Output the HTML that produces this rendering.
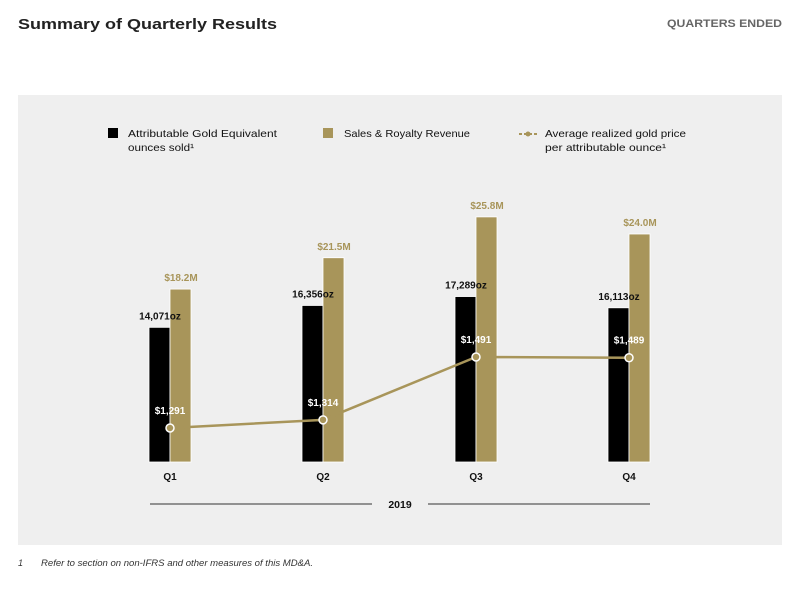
<!DOCTYPE html>
<html><head><meta charset="utf-8"><style>
body{margin:0;width:800px;height:584px;background:#fff;font-family:"Liberation Sans",sans-serif;overflow:hidden}
svg text{font-family:"Liberation Sans",sans-serif}
</style></head><body>
<svg id="c" width="800" height="584">
<text x="18" y="29" font-size="15" font-weight="bold" fill="#222" textLength="259" lengthAdjust="spacingAndGlyphs">Summary of Quarterly Results</text>
<text x="667" y="27" font-size="11" font-weight="bold" fill="#666" textLength="115" lengthAdjust="spacingAndGlyphs">QUARTERS ENDED</text>
<rect x="18" y="95" width="764" height="450" fill="#efefef"/>
<g>
<rect x="108" y="128" width="10" height="10" fill="#000"/>
<text font-size="10.5" fill="#111"><tspan x="128" y="137" textLength="149" lengthAdjust="spacingAndGlyphs">Attributable Gold Equivalent</tspan><tspan x="128" y="151" textLength="66" lengthAdjust="spacingAndGlyphs">ounces sold¹</tspan></text>
<rect x="323" y="128" width="10" height="10" fill="#a8955a"/>
<text x="344" y="137" font-size="10.5" fill="#111" textLength="126" lengthAdjust="spacingAndGlyphs">Sales &amp; Royalty Revenue</text>
<line x1="519" y1="134" x2="537" y2="134" stroke="#a8955a" stroke-width="2" stroke-dasharray="3,2"/>
<circle cx="528" cy="134" r="2.5" fill="#a8955a"/>
<text font-size="10.5" fill="#111"><tspan x="545" y="137" textLength="141" lengthAdjust="spacingAndGlyphs">Average realized gold price</tspan><tspan x="545" y="151" textLength="121" lengthAdjust="spacingAndGlyphs">per attributable ounce¹</tspan></text>
</g>
<line x1="150" y1="504" x2="372" y2="504" stroke="#333"/>
<line x1="428" y1="504" x2="650" y2="504" stroke="#333"/>
<text x="400" y="508" font-size="10.5" font-weight="bold" text-anchor="middle" fill="#111">2019</text>
<text x="18" y="566" font-size="9" font-style="italic" fill="#333" font-family="Liberation Serif">1</text>
<text x="41" y="566" font-size="9" font-style="italic" fill="#333" textLength="272" lengthAdjust="spacingAndGlyphs">Refer to section on non-IFRS and other measures of this MD&amp;A.</text>
<g id="plot"></g>
</svg>
<script>
const quarters=["Q1","Q2","Q3","Q4"];
const ounces=[14071,16356,17289,16113];
const revenue=[18.2,21.5,25.8,24.0];
const prices=[1291,1314,1491,1489];
const ouncesLabels=["14,071oz","16,356oz","17,289oz","16,113oz"];
const revenueLabels=["$18.2M","$21.5M","$25.8M","$24.0M"];
const priceLabels=["$1,291","$1,314","$1,491","$1,489"];
const NS="http://www.w3.org/2000/svg";
const base=462;
const xC=i=>170+i*153;
const yOz=v=>base-v*0.00957;
const yRev=v=>base-v*9.5;
const yPrice=v=>428-(v-1291)*0.355;
const g=document.getElementById('plot');
function mk(t,a){const e=document.createElementNS(NS,t);for(const k in a)e.setAttribute(k,a[k]);g.appendChild(e);return e;}
quarters.forEach((q,i)=>{
 const x=xC(i);
 let b=mk('rect',{x:x-21,y:yOz(ounces[i]),width:21,height:base-yOz(ounces[i]),fill:'#000',stroke:'#fff','stroke-width':0.8});
 
 
 let r=mk('rect',{x:x,y:yRev(revenue[i]),width:21,height:base-yRev(revenue[i]),fill:'#a8955a',stroke:'#fff','stroke-width':0.8});
 
 
 let t=mk('text',{x:x-10,y:yOz(ounces[i])-8,'font-size':10,'font-weight':'bold','text-anchor':'middle',fill:'#111'});
 t.textContent=ouncesLabels[i];
 
 
 let t2=mk('text',{x:x+11,y:yRev(revenue[i])-8,'font-size':10,'font-weight':'bold','text-anchor':'middle',fill:'#a8955a'});
 t2.textContent=revenueLabels[i];
 
 
 let t3=mk('text',{x:x,y:480,'font-size':10,'font-weight':'bold','text-anchor':'middle',fill:'#111'});
 t3.textContent=q;
 
 
});
const pl=mk('polyline',{points:prices.map((p,i)=>xC(i)+','+yPrice(p)).join(' '),fill:'none',stroke:'#a8955a','stroke-width':2.5});


prices.forEach((p,i)=>{
 const c=mk('circle',{cx:xC(i),cy:yPrice(p),r:4,fill:'#a8955a',stroke:'#fff','stroke-width':1.5});
 
 
 const t=mk('text',{x:xC(i),y:yPrice(p)-14,'font-size':10,'font-weight':'bold','text-anchor':'middle',fill:'#fff'});
 t.textContent=priceLabels[i];
 
 
});
</script>
</body></html>
